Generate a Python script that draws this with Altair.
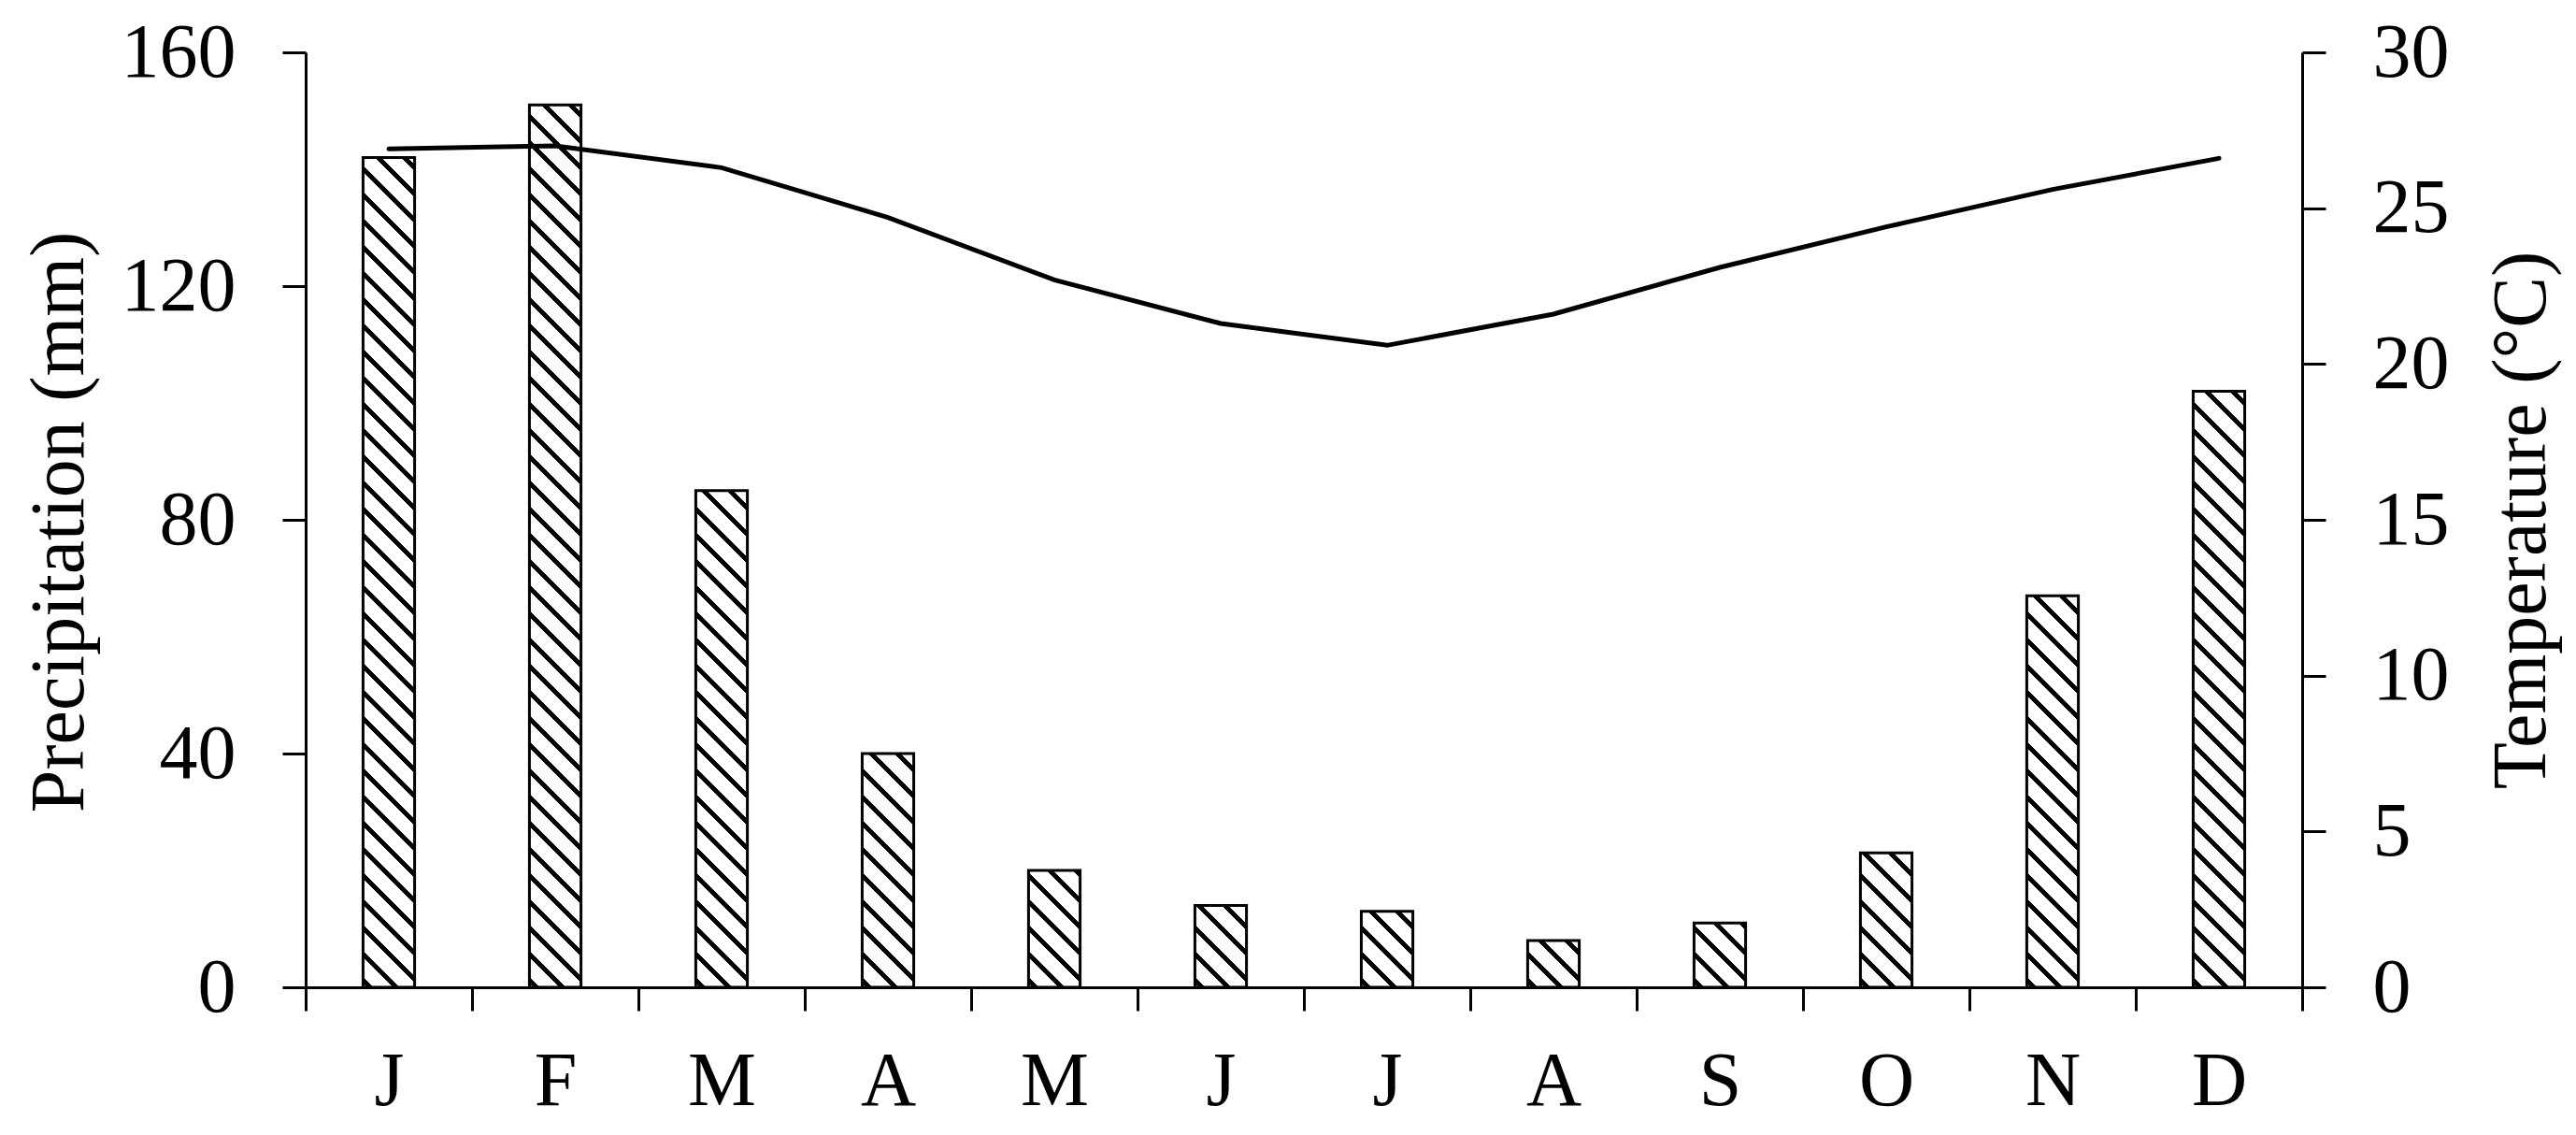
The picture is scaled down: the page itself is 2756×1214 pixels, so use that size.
import json
import altair as alt
import pandas as pd

# ---- data ----
month_keys = list(range(12))
month_labels = ["J", "F", "M", "A", "M", "J", "J", "A", "S", "O", "N", "D"]
precipitation = [142, 151, 85, 40, 20, 14, 13, 8, 11, 23, 67, 102]
temperature = [26.9, 27.0, 26.3, 24.7, 22.7, 21.3, 20.6, 21.6, 23.1, 24.4, 25.6, 26.6]

df = pd.DataFrame({"idx": month_keys, "precip": precipitation, "temp": temperature})

# ---- layout ----
PLOT_W, PLOT_H = 2136, 1000
P_MAX, T_MAX = 160, 30
BAR_FRAC = 0.31
FONT = "Liberation Serif"
FS = 82

band_px = PLOT_W / len(month_keys)
bar_px = BAR_FRAC * band_px


def hatch_fill(value, period=28.0, dark=7.0):
    """Diagonal (\\) hatch built as a striped linear gradient in bbox units."""
    W = bar_px
    H = max(value * PLOT_H / P_MAX, 1.0)
    k = (W + H) / (W * W + H * H)
    total = W + H
    stops = [alt.GradientStop(offset=0, color="white")]
    s = 4.0
    while s < total:
        a = min(s / total, 1.0)
        b = min((s + dark) / total, 1.0)
        stops += [
            alt.GradientStop(offset=round(a, 5), color="white"),
            alt.GradientStop(offset=round(a, 5), color="black"),
            alt.GradientStop(offset=round(b, 5), color="black"),
            alt.GradientStop(offset=round(b, 5), color="white"),
        ]
        s += period
    stops.append(alt.GradientStop(offset=1, color="white"))
    return alt.Gradient(
        gradient="linear",
        stops=stops,
        x1=0,
        y1=1,
        x2=round(W * k, 6),
        y2=round(1 - H * k, 6),
    )


label_expr = f"{json.dumps(month_labels)}[datum.value]"

x_enc = alt.X(
    "idx:O",
    sort=month_keys,
    scale=alt.Scale(paddingInner=0, paddingOuter=0),
    axis=alt.Axis(
        title=None,
        labelAngle=0,
        labelExpr=label_expr,
        tickBand="extent",
        tickSize=25,
        tickWidth=3,
        domainWidth=3,
        labelPadding=35,
        labelBaseline="top",
    ),
)

y_left = alt.Y(
    "precip:Q",
    scale=alt.Scale(domain=[0, P_MAX], nice=False),
    axis=alt.Axis(
        values=[0, 40, 80, 120, 160],
        title="Precipitation (mm)",
        titleAngle=270,
        titleX=-239,
        titleY=502,
        titleAlign="center",
        titleBaseline="alphabetic",
        tickSize=25,
        tickWidth=3,
        domainWidth=3,
        labelPadding=50,
        grid=False,
    ),
)

bars = []
for i, v in zip(month_keys, precipitation):
    bars.append(
        alt.Chart(df)
        .transform_filter(alt.datum.idx == i)
        .mark_bar(
            width=alt.RelativeBandSize(BAR_FRAC),
            fill=hatch_fill(v),
            stroke="black",
            strokeWidth=3,
        )
        .encode(x=x_enc, y=y_left)
    )
bar_layer = alt.layer(*bars)

line = (
    alt.Chart(df)
    .mark_line(color="black", strokeWidth=5, strokeCap="round")
    .encode(
        x=x_enc,
        y=alt.Y(
            "temp:Q",
            scale=alt.Scale(domain=[0, T_MAX], nice=False),
            axis=alt.Axis(
                orient="right",
                values=[0, 5, 10, 15, 20, 25, 30],
                title="Temperature (°C)",
                titleAngle=270,
                titleX=259,
                titleY=500,
                titleAlign="center",
                titleBaseline="alphabetic",
                tickSize=25,
                tickWidth=3,
                domainWidth=3,
                labelPadding=50,
                grid=False,
            ),
        ),
    )
)

chart = (
    alt.layer(bar_layer, line)
    .resolve_scale(y="independent")
    .properties(
        width=PLOT_W,
        height=PLOT_H,
        autosize=alt.AutoSizeParams(type="none"),
        padding={"left": 319, "top": 48, "right": 280, "bottom": 148},
        background="white",
    )
    .configure_view(stroke=None)
    .configure_axis(
        labelFont=FONT,
        titleFont=FONT,
        labelFontSize=FS,
        titleFontSize=FS,
        titleFontWeight="normal",
        labelColor="black",
        titleColor="black",
        domainColor="black",
        tickColor="black",
        grid=False,
    )
)

chart.save("out.html", embed_options={"renderer": "svg", "actions": False})
